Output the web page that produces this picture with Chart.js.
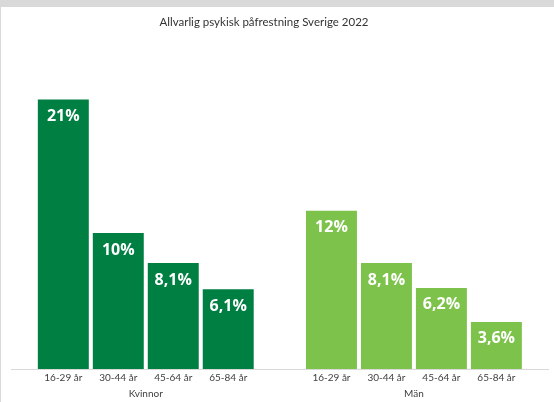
<!DOCTYPE html>
<html>
<head>
<meta charset="utf-8">
<script src="https://cdn.jsdelivr.net/npm/chart.js@4"></script>
<style>
  html, body { margin: 0; padding: 0; background: #d9d9d9; width: 554px; height: 402px; overflow: hidden; }
  #wrap { position: absolute; left: 1px; top: 7px; width: 553px; height: 395px; background: #ffffff; }
</style>
</head>
<body>
<div id="wrap"><canvas id="c" width="553" height="395"></canvas></div>
<script>
const titleText = 'Allvarlig psykisk påfrestning Sverige 2022';
const categories = ['Kvinnor', 'Män'];
const ageGroups = ['16-29 år', '30-44 år', '45-64 år', '65-84 år'];
const kvinnor = [20.6, 10.4, 8.1, 6.1];
const man = [12.1, 8.1, 6.2, 3.6];
const groupColors = ['#007f43', '#7dc24a'];

function fmt(v) {
  return v >= 9.95 ? Math.round(v) + '%' : v.toFixed(1).replace('.', ',') + '%';
}

const datasets = ageGroups.map((g, i) => ({
  label: g,
  data: [kvinnor[i], man[i]],
  backgroundColor: groupColors,
  borderWidth: 0,
  categoryPercentage: 0.82,
  barPercentage: 0.927
}));

const overlay = {
  id: 'overlay',
  afterDatasetsDraw(chart) {
    const ctx = chart.ctx;
    const area = chart.chartArea;
    ctx.save();
    chart.data.datasets.forEach((ds, di) => {
      const meta = chart.getDatasetMeta(di);
      meta.data.forEach((bar, j) => {
        ctx.fillStyle = '#ffffff';
        ctx.font = 'bold 16px "Open Sans"';
        ctx.textAlign = 'center';
        ctx.textBaseline = 'middle';
        ctx.fillText(fmt(ds.data[j]), bar.x, bar.y + 17);
        ctx.fillStyle = '#404040';
        ctx.font = '10px Lato';
        ctx.fillText(ds.label, bar.x, area.bottom + 9);
      });
    });
    ctx.fillStyle = '#333333';
    ctx.font = '11.5px Lato';
    ctx.textAlign = 'center';
    ctx.textBaseline = 'middle';
    ctx.fillText(titleText, 263, 15.5);
    ctx.restore();
  }
};

new Chart(document.getElementById('c'), {
  type: 'bar',
  data: { labels: categories, datasets: datasets },
  options: {
    responsive: false,
    animation: false,
    layout: { padding: { top: 35, left: 10.7, right: 6, bottom: 1 } },
    plugins: { legend: { display: false }, title: { display: false }, tooltip: { enabled: false } },
    scales: {
      y: { display: false, min: 0, max: 25 },
      x: {
        grid: { display: false, drawTicks: false },
        border: { display: true, color: '#d9d9d9', width: 1 },
        ticks: { color: '#404040', font: { family: 'Lato', size: 10 }, padding: 19 },
        afterFit(scale) { scale.height = 32; }
      }
    }
  },
  plugins: [overlay]
});
</script>
</body>
</html>
